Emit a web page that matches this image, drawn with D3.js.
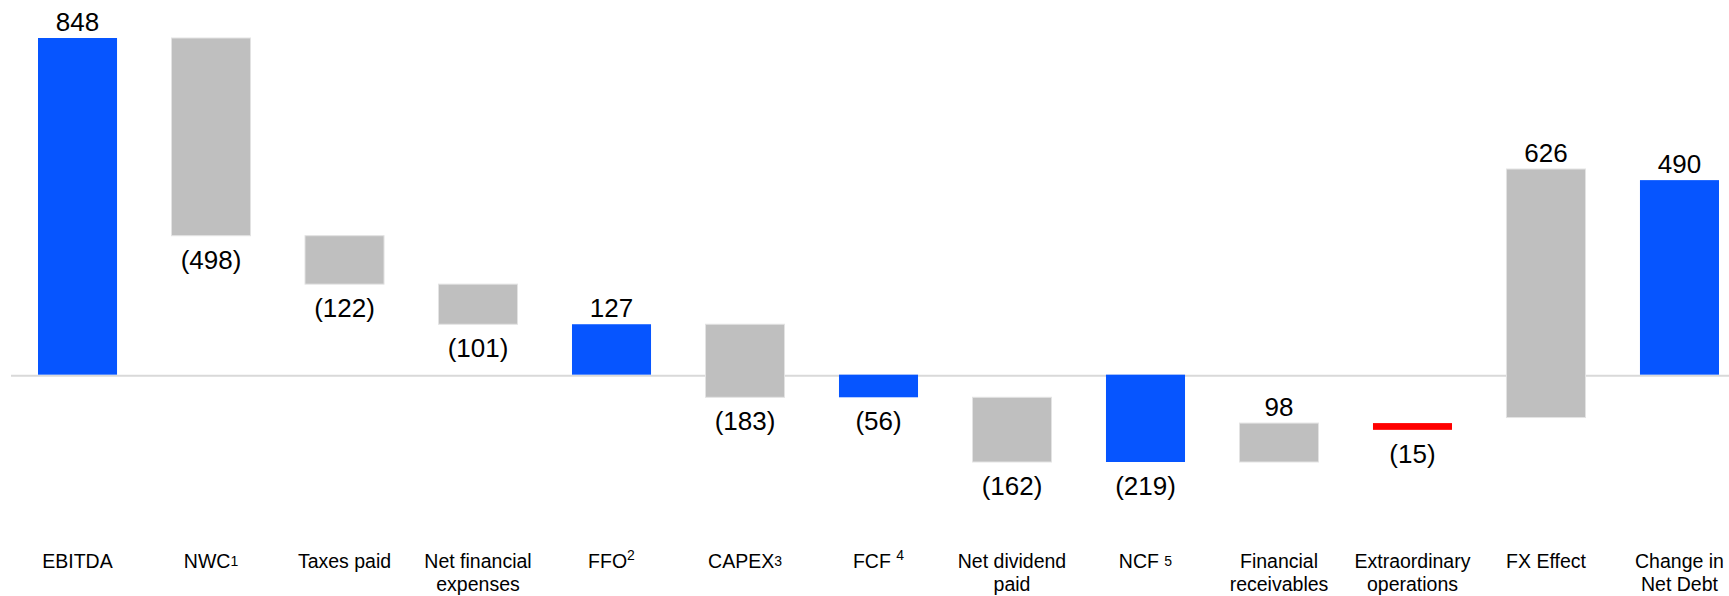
<!DOCTYPE html>
<html>
<head>
<meta charset="utf-8">
<script src="https://cdn.jsdelivr.net/npm/d3@7"></script>
<style>
  html, body { margin: 0; padding: 0; background: #fff; }
  svg { display: block; font-family: "Liberation Sans", Arial, sans-serif; }
</style>
</head>
<body>
<svg id="chart"></svg>
<script>
// categories, each one a list of lines
const categories = [
    ["EBITDA"], ["NWC"], ["Taxes paid"], ["Net financial", "expenses"], ["FFO"],
    ["CAPEX"], ["FCF "], ["Net dividend", "paid"], ["NCF "], ["Financial", "receivables"],
    ["Extraordinary", "operations"], ["FX Effect"], ["Change in", "Net Debt"]
]
// footnote marks after the first line
const footnotes = ["", "1", "", "", "2", "3", "4", "", "5", "", "", "", ""]
const footnoteRaised = [false, false, false, false, true, false, true, false, false, false, false, false, false]

// shown values
const values = [848, -498, -122, -101, 127, -183, -56, -162, -219, 98, -15, 626, 490]
// bar ends as drawn in the picture
const barLow = [0, 350, 228, 127, 0, -57, -57, -220, -220, -220, -139, -108, 0]
const barHigh = [848, 848, 350, 228, 127, 127, 0, -57, 0, -122, -122, 518, 490]
// total = blue, step = gray, special = red
const kinds = ["total", "step", "step", "step", "total", "step", "total", "step", "total", "step", "special", "step", "total"]

const colors = { total: "#0655ff", step: "#bfbfbf", special: "#ff0000" }

const W = 1729, H = 596
const margin = { top: 38, left: 38, right: 10 }
const chartBottom = 462

const svg = d3.select("#chart").attr("width", W).attr("height", H)

const data = categories.map((c, i) => ({
    lines: c, note: footnotes[i], raised: footnoteRaised[i],
    value: values[i], low: barLow[i], high: barHigh[i], kind: kinds[i]
}))

const x = d3.scaleBand()
    .domain(d3.range(data.length))
    .range([margin.left, W - margin.right])
    .paddingInner(0.408)
    .paddingOuter(0)

const y = d3.scaleLinear()
    .domain([d3.min(barLow), d3.max(barHigh)])
    .range([chartBottom, margin.top])

// zero line
svg.append("line")
    .attr("x1", 11).attr("x2", W)
    .attr("y1", y(0) + 1).attr("y2", y(0) + 1)
    .attr("stroke", "#d9d9d9")
    .attr("stroke-width", 2)

svg.selectAll(".bar")
    .data(data)
    .join("rect")
        .attr("class", "bar")
        .attr("x", (d, i) => x(i))
        .attr("width", x.bandwidth())
        .attr("y", d => y(d.high))
        .attr("height", d => Math.max(1, y(d.low) - y(d.high)))
        .attr("fill", d => colors[d.kind])
        .attr("stroke", d => d.kind == "step" ? "#e3e3e3" : "none")
        .attr("stroke-width", 1)

const fmt = v => v < 0 ? `(${Math.abs(v)})` : `${v}`

svg.selectAll(".value")
    .data(data)
    .join("text")
        .attr("class", "value")
        .attr("x", (d, i) => x(i) + x.bandwidth() / 2)
        .attr("y", d => d.value < 0 ? y(d.low) + 33 : y(d.high) - 7)
        .attr("text-anchor", "middle")
        .attr("font-size", 26)
        .attr("fill", "#000")
        .text(d => fmt(d.value))

// category labels
const cat = svg.selectAll(".cat")
    .data(data)
    .join("text")
        .attr("class", "cat")
        .attr("x", (d, i) => x(i) + x.bandwidth() / 2)
        .attr("y", 568)
        .attr("text-anchor", "middle")
        .attr("font-size", 19.5)
        .attr("fill", "#000")

cat.each(function(d, i) {
    const t = d3.select(this)
    const cx = x(i) + x.bandwidth() / 2
    d.lines.forEach((line, j) => {
        const span = t.append("tspan")
            .attr("x", cx)
            .attr("dy", j == 0 ? 0 : 23)
            .text(line)
        if (j == 0 && d.note) {
            span.append("tspan")
                .attr("font-size", 14)
                .attr("dy", d.raised ? -8 : -2)
                .text(d.note)
            span.append("tspan")
                .attr("dy", d.raised ? 8 : 2)
                .text("")
        }
    })
})
</script>
</body>
</html>
